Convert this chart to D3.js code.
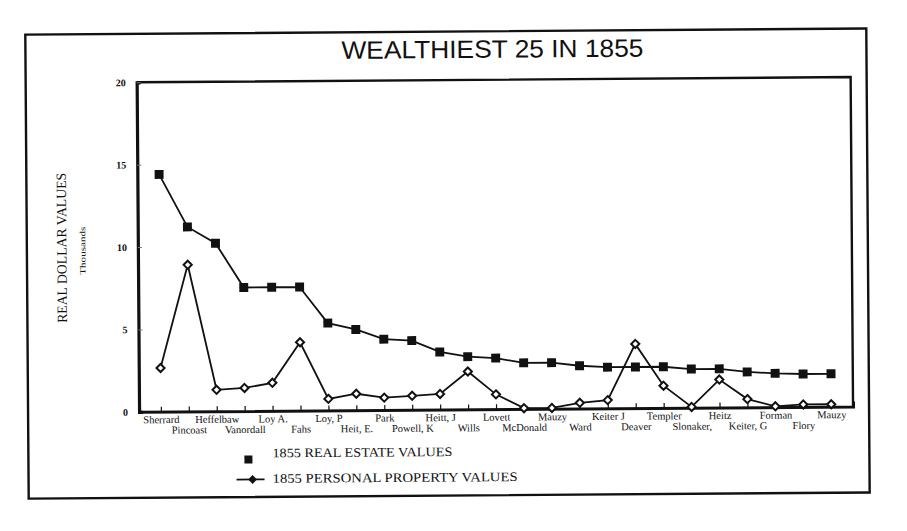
<!DOCTYPE html>
<html>
<head>
<meta charset="utf-8">
<script src="https://cdn.jsdelivr.net/npm/d3@7"></script>
<style>
  html, body { margin: 0; padding: 0; background: #fff; }
  svg { display: block; }
</style>
</head>
<body>
<svg id="chart" width="907" height="531"></svg>
<script>
// ---- data ----
const categories = ["Sherrard","Pincoast","Heffelbaw","Vanordall","Loy A.","Fahs","Loy, P","Heit, E.","Park","Powell, K","Heitt, J","Wills","Lovett","McDonald","Mauzy","Ward","Keiter J","Deaver","Templer","Slonaker,","Heitz","Keiter, G","Forman","Flory","Mauzy"];
const realEstate = [14.4,11.2,10.2,7.5,7.5,7.5,5.3,4.9,4.3,4.2,3.5,3.2,3.1,2.8,2.8,2.6,2.5,2.5,2.5,2.35,2.35,2.15,2.05,2.0,2.0];
const personal = [2.65,8.9,1.3,1.4,1.7,4.15,0.7,1.0,0.75,0.85,0.95,2.3,0.9,0.05,0.05,0.35,0.5,3.9,1.35,0.05,1.7,0.5,0.05,0.15,0.15];
const yTicks = [0,5,10,15,20];
const chartTitle = "WEALTHIEST 25 IN 1855";
const yTitle = "REAL DOLLAR VALUES";
const yUnits = "Thousands";
const legendLabels = ["1855 REAL ESTATE VALUES", "1855 PERSONAL PROPERTY VALUES"];

// ---- layout ----
const svg = d3.select("#chart");
const root = svg.append("g").attr("transform", "rotate(-0.42,453,265)");
const ink = "#111";
const serif = "'Liberation Serif','Times New Roman',serif";

const plot = {left: 138, right: 852, top: 80, bottom: 409.5};

// outer frame
root.append("rect")
  .attr("x", 27).attr("y", 31.5).attr("width", 841).attr("height", 464)
  .attr("fill", "none").attr("stroke", ink).attr("stroke-width", 2.4);

// title
root.append("text")
  .attr("x", 494).attr("y", 58)
  .attr("text-anchor", "middle")
  .attr("font-family", "'Liberation Sans',Arial,sans-serif")
  .attr("font-size", 25)
  .attr("textLength", 302).attr("lengthAdjust", "spacingAndGlyphs")
  .attr("fill", ink)
  .text(chartTitle);

// scales
const x = d3.scalePoint().domain(d3.range(categories.length))
  .range([plot.left, plot.right]).padding(0.78);
const y = d3.scaleLinear().domain([0, 20]).range([plot.bottom, plot.top]);

// plot frame (top + right)
root.append("path")
  .attr("d", `M${plot.left},${plot.top}H${plot.right}V${plot.bottom}`)
  .attr("fill", "none").attr("stroke", ink).attr("stroke-width", 2.4);

// y axis
const yAxis = root.append("g").attr("transform", `translate(${plot.left},0)`)
  .call(d3.axisLeft(y).tickValues(yTicks).tickSize(-4).tickPadding(11).tickFormat(d3.format("d")));
yAxis.select(".domain").attr("stroke", ink).attr("stroke-width", 3.2);
yAxis.selectAll(".tick line").attr("stroke", "#777").attr("stroke-width", 1);
yAxis.selectAll(".tick text")
  .attr("font-family", serif).attr("font-size", 10).attr("font-weight", "bold")
  .attr("fill", ink);

// x axis
const xAxis = root.append("g").attr("transform", `translate(0,${plot.bottom})`)
  .call(d3.axisBottom(x).tickSize(-5).tickFormat(i => categories[i]));
xAxis.select(".domain").attr("stroke", ink).attr("stroke-width", 3);
xAxis.selectAll(".tick line").attr("stroke", ink).attr("stroke-width", 1.2);
xAxis.selectAll(".tick text")
  .attr("font-family", serif).attr("font-size", 10.5)
  .attr("fill", ink)
  .attr("dy", 0)
  .attr("y", (d) => d % 2 ? 22 : 11.5);

// axis titles
root.append("text")
  .attr("transform", "translate(62,245) rotate(-90)")
  .attr("text-anchor", "middle").attr("dominant-baseline", "central")
  .attr("font-family", serif).attr("font-size", 14)
  .attr("textLength", 150).attr("lengthAdjust", "spacingAndGlyphs")
  .attr("fill", ink)
  .text(yTitle);
root.append("text")
  .attr("transform", "translate(83,248) rotate(-90)")
  .attr("text-anchor", "middle").attr("dominant-baseline", "central")
  .attr("font-family", serif).attr("font-size", 8)
  .attr("textLength", 48).attr("lengthAdjust", "spacingAndGlyphs")
  .attr("fill", ink)
  .text(yUnits);

// lines
const line = d3.line().x((d, i) => x(i)).y(d => y(d));
root.append("path").datum(realEstate)
  .attr("d", line).attr("fill", "none")
  .attr("stroke", ink).attr("stroke-width", 1.8);
root.append("path").datum(personal)
  .attr("d", line).attr("fill", "none")
  .attr("stroke", ink).attr("stroke-width", 1.8);

// markers
const sq = d3.symbol().type(d3.symbolSquare).size(80);
const dm = d3.symbol().type(d3.symbolDiamond2).size(42);
root.append("g").selectAll("path").data(realEstate).join("path")
  .attr("d", sq)
  .attr("transform", (d, i) => `translate(${x(i)},${y(d)})`)
  .attr("fill", ink);
root.append("g").selectAll("path").data(personal).join("path")
  .attr("d", dm)
  .attr("transform", (d, i) => `translate(${x(i)},${y(d)})`)
  .attr("fill", "#fff").attr("stroke", ink).attr("stroke-width", 2);

// legend
const lg = root.append("g");
lg.append("path").attr("d", d3.symbol().type(d3.symbolSquare).size(64))
  .attr("transform", "translate(247,458)").attr("fill", ink);
lg.append("text").attr("x", 271).attr("y", 456)
  .attr("font-family", serif).attr("font-size", 13)
  .attr("textLength", 180).attr("lengthAdjust", "spacingAndGlyphs")
  .attr("fill", ink).text(legendLabels[0]);
lg.append("line").attr("x1", 235).attr("x2", 263).attr("y1", 478).attr("y2", 478)
  .attr("stroke", ink).attr("stroke-width", 1.8);
lg.append("path").attr("d", d3.symbol().type(d3.symbolDiamond2).size(50))
  .attr("transform", "translate(251,478)").attr("fill", ink);
lg.append("text").attr("x", 271).attr("y", 481.5)
  .attr("font-family", serif).attr("font-size", 13)
  .attr("textLength", 245).attr("lengthAdjust", "spacingAndGlyphs")
  .attr("fill", ink).text(legendLabels[1]);
</script>
</body>
</html>
